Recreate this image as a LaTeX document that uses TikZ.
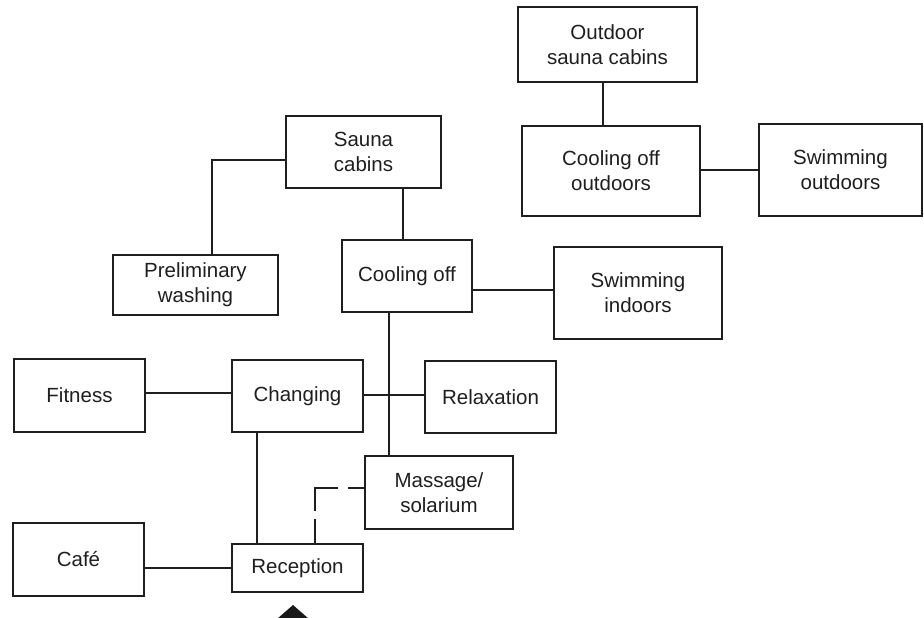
\documentclass[tikz,border=0pt]{standalone}
\usepackage{fontspec}
\setmainfont{Liberation Sans}
\begin{document}
\begin{tikzpicture}[x=1pt,y=-1pt,
  box/.style={draw=black!88, line width=1.9pt, rectangle, inner sep=0pt, align=center,
    font=\fontsize{20.5}{25}\selectfont, text=black!88},
  link/.style={draw=black!88, line width=1.9pt},
  dlink/.style={draw=black!88, line width=1.9pt, dash pattern=on 24pt off 8pt on 46pt off 10pt on 30pt off 0pt}]
\useasboundingbox (0,0) rectangle (924,618);
\fill[white] (0,0) rectangle (924,618);
% nodes
\node[box, minimum width=179pt, minimum height=75pt] (osauna) at (607.5,44.5) {Outdoor\\sauna cabins};
\node[box, minimum width=178pt, minimum height=90pt] (cooloutd) at (611,171) {Cooling off\\outdoors};
\node[box, minimum width=163pt, minimum height=92pt] (swimout) at (840.5,170) {Swimming\\outdoors};
\node[box, minimum width=155pt, minimum height=72pt] (sauna) at (363.5,152) {Sauna\\cabins};
\node[box, minimum width=165pt, minimum height=60pt] (prelim) at (195.5,285) {Preliminary\\washing};
\node[box, minimum width=130pt, minimum height=72pt] (cool) at (407,276) {Cooling off};
\node[box, minimum width=168pt, minimum height=92pt] (swimin) at (638,293) {Swimming\\indoors};
\node[box, minimum width=131pt, minimum height=73pt] (fitness) at (79.5,395.5) {Fitness};
\node[box, minimum width=131pt, minimum height=72pt] (changing) at (297.5,396) {Changing};
\node[box, minimum width=131pt, minimum height=72pt] (relax) at (490.5,397) {Relaxation};
\node[box, minimum width=148pt, minimum height=73pt] (massage) at (439,492.5) {Massage/\\solarium};
\node[box, minimum width=131pt, minimum height=73pt] (cafe) at (78.5,559.5) {Café};
\node[box, minimum width=131pt, minimum height=48pt] (reception) at (297.5,568) {Reception};
% helper coordinates
\coordinate (c1) at (603,0);
\coordinate (c2) at (212,160);
\coordinate (c3) at (403,0);
\coordinate (c4) at (0,290);
\coordinate (c5) at (389,0);
\coordinate (c6) at (0,393);
\coordinate (c7) at (0,395);
\coordinate (c8) at (257,0);
\coordinate (c9) at (315,488);
\coordinate (c10) at (0,568);
% connectors
\draw[link] (osauna.south -| c1) -- (cooloutd.north -| c1);
\draw[link] (cooloutd.east |- swimout.west) -- (swimout.west);
\draw[link] (sauna.west |- c2) -| (prelim.north -| c2);
\draw[link] (sauna.south -| c3) -- (cool.north -| c3);
\draw[link] (cool.east |- c4) -- (swimin.west |- c4);
\draw[link] (fitness.east |- c6) -- (changing.west |- c6);
\draw[link] (changing.east |- c7) -- (relax.west |- c7);
\draw[link] (cool.south -| c5) -- (massage.north -| c5);
\draw[link] (changing.south -| c8) -- (reception.north -| c8);
\draw[dlink] (reception.north -| c9) |- (massage.west |- c9);
\draw[link] (cafe.east |- c10) -- (reception.west |- c10);
% entrance marker
\fill[black!90] (293,605) -- (309,619) -- (277,619) -- cycle;
\end{tikzpicture}
\end{document}
